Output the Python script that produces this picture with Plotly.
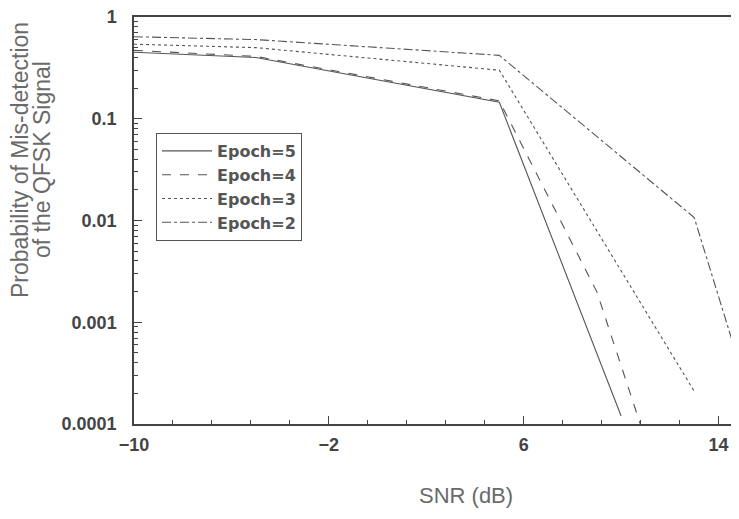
import plotly.graph_objects as go

snr_e5 = [-10, -5, 5, 10]
pm_e5 = [0.45, 0.40, 0.145, 0.00012]

snr_e4 = [-10, -5, 5, 9, 11]
pm_e4 = [0.47, 0.41, 0.15, 0.002, 0.00007]

snr_e3 = [-10, -5, 5, 13]
pm_e3 = [0.54, 0.50, 0.30, 0.00021]

snr_e2 = [-10, -5, 5, 13, 15]
pm_e2 = [0.64, 0.60, 0.42, 0.0107, 0.0003]

series = [
    ("Epoch=5", snr_e5, pm_e5, "solid"),
    ("Epoch=4", snr_e4, pm_e4, "dash"),
    ("Epoch=3", snr_e3, pm_e3, "dot"),
    ("Epoch=2", snr_e2, pm_e2, "dashdot"),
]

x_tickvals = [-10, -2, 6, 14]
y_tickvals = [1, 0.1, 0.01, 0.001, 0.0001]
y_ticktext = ["1", "0.1", "0.01", "0.001", "0.0001"]
y_title_lines = ["Probability of Mis-detection", "of the QFSK Signal"]
x_title = "SNR (dB)"

# page body has an 8px margin; lay out in screen pixels and compensate
OFF = 8
W, H = 739 - OFF, 519 - OFF
ML, MR, MT, MB = 134 - OFF, 0, 17 - OFF, 95
pw, ph = W - ML - MR, H - MT - MB


def px_x(sx):
    return (sx - OFF - ML) / pw


def px_y(sy):
    return (H - MB - (sy - OFF)) / ph


fig = go.Figure()
for name, x, y, dash in series:
    fig.add_trace(go.Scatter(x=x, y=y, mode="lines", name=name,
                             line=dict(color="#555555", width=1.1, dash=dash)))

ff = "Liberation Sans, Arial, sans-serif"
annotations = []
for line, sx in zip(y_title_lines, [20, 42]):
    annotations.append(dict(text=line, xref="paper", yref="paper",
                            x=px_x(sx), y=px_y(160),
                            xanchor="center", yanchor="middle", textangle=-90,
                            showarrow=False, font=dict(size=23, color="#6a6a6a", family=ff)))
annotations.append(dict(text=x_title, xref="paper", yref="paper",
                        x=px_x(466), y=px_y(495),
                        xanchor="center", yanchor="middle", showarrow=False,
                        font=dict(size=22, color="#6a6a6a", family=ff)))

fig.update_layout(
    width=W, height=H,
    margin=dict(l=ML, r=MR, t=MT, b=MB),
    paper_bgcolor="white", plot_bgcolor="white",
    font=dict(family=ff, color="#444444"),
    showlegend=True,
    annotations=annotations,
    legend=dict(x=px_x(156), y=px_y(133), xanchor="left", yanchor="top",
                bordercolor="#555555", borderwidth=1, bgcolor="white",
                font=dict(size=16, color="#555555", family="DejaVu Sans, sans-serif", weight="bold"),
                itemwidth=50, tracegroupgap=0),
    xaxis=dict(range=[-10, 14.84], tickvals=x_tickvals, ticks="inside", ticklen=8,
               tickcolor="#444444", showline=True, linecolor="#444444", linewidth=1.5,
               mirror=True, showgrid=False, zeroline=False, automargin=False,
               ticklabelstandoff=4, ticklabeloverflow="allow",
               tickfont=dict(size=18, color="#444444", weight="bold"),
               minor=dict(tick0=-10, dtick=1.6, ticks="inside", ticklen=4, tickcolor="#444444", showgrid=False)),
    yaxis=dict(type="log", range=[-4, 0], tickvals=y_tickvals, ticktext=y_ticktext,
               ticks="inside", ticklen=8, tickcolor="#444444", automargin=False,
               ticklabelstandoff=12, ticklabeloverflow="allow",
               showline=True, linecolor="#444444", linewidth=1.5, showgrid=False, zeroline=False,
               tickfont=dict(size=18, color="#444444", weight="bold"),
               minor=dict(dtick="D1", ticks="inside", ticklen=4, tickcolor="#444444", showgrid=False)),
)

fig.write_html("out.html")
